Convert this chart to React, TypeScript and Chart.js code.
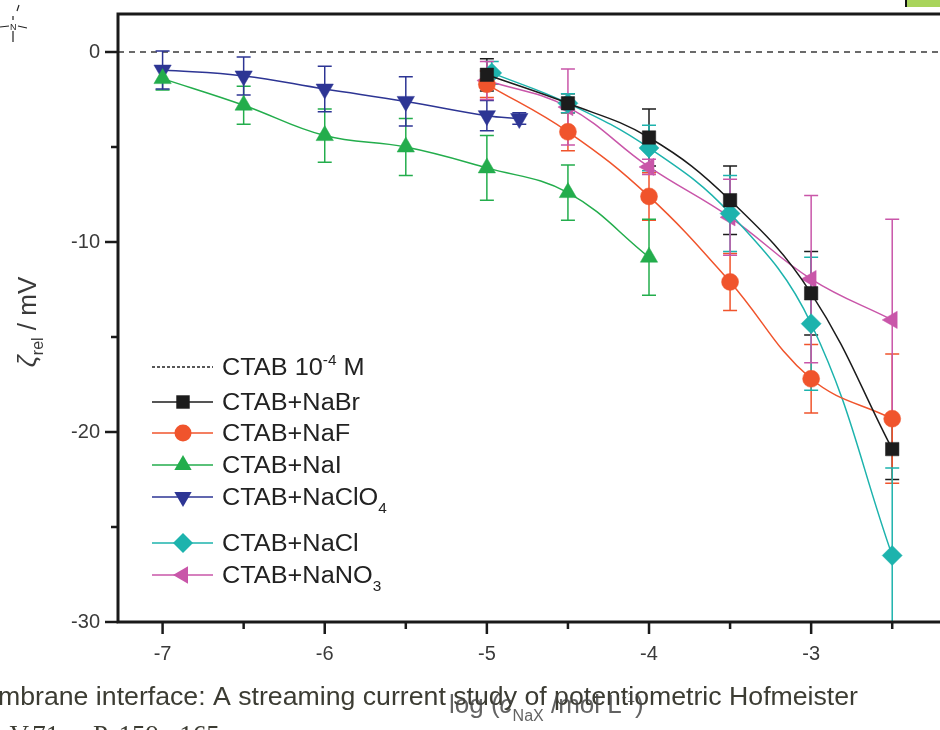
import React, { useEffect, useRef } from "react";
import Chart from "chart.js/auto";

// ---------- data ----------
const xTickValues = [-7, -6.5, -6, -5.5, -5, -4.5, -4, -3.5, -3, -2.5];
const yTickValues = [-30, -25, -20, -15, -10, -5, 0];
const xRange = [-7.275, -1.9];
const yRange = [-30, 2];
const referenceLevel = 0;

const xNaBr = [-5, -4.5, -4, -3.5, -3, -2.5];
const yNaBr = [-1.2, -2.7, -4.5, -7.8, -12.7, -20.9];
const eNaBr = [0.85, 0.5, 1.5, 1.8, 2.2, 1.6];

const xNaF = [-5, -4.5, -4, -3.5, -3, -2.5];
const yNaF = [-1.7, -4.2, -7.6, -12.1, -17.2, -19.3];
const eNaF = [0.7, 1.0, 1.25, 1.5, 1.8, 3.4];

const xNaI = [-7, -6.5, -6, -5.5, -5, -4.5, -4];
const yNaI = [-1.4, -2.8, -4.4, -5.0, -6.1, -7.4, -10.8];
const eNaI = [0.6, 1.0, 1.4, 1.5, 1.7, 1.45, 2.0];

const xNaClO4 = [-7, -6.5, -6, -5.5, -5, -4.8];
const yNaClO4 = [-0.95, -1.26, -1.95, -2.6, -3.35, -3.5];
const eNaClO4 = [1.0, 1.0, 1.2, 1.3, 0.8, 0.3];

const xNaCl = [-4.97, -4.5, -4, -3.5, -3, -2.5];
const yNaCl = [-1.1, -2.7, -5.05, -8.5, -14.3, -26.5];
const eNaCl = [0.6, 0.5, 1.2, 2.0, 3.5, 4.6];

const xNaNO3 = [-5, -4.5, -4, -3.5, -3, -2.5];
const yNaNO3 = [-1.5, -2.9, -6.05, -8.7, -11.95, -14.1];
const eNaNO3 = [1.0, 2.0, 0.4, 2.0, 4.4, 5.3];

const referenceLabel = ["CTAB 10", "-4", " M"];
const seriesLabels = ["CTAB+NaBr", "CTAB+NaF", "CTAB+NaI", "CTAB+NaClO", "CTAB+NaCl", "CTAB+NaNO"];
const seriesLabelSubs = ["", "", "", "4", "", "3"];

const pageLine1 = "mbrane interface: A streaming current study of potentiometric Hofmeister";
const pageLine2 = "\u2013V.71. \u2013 P. 159\u2013 165.";

// ---------- styling ----------
const FONT = '"Liberation Sans", Arial, sans-serif';
const series = [
  { label: seriesLabels[0], sub: seriesLabelSubs[0], x: xNaBr, y: yNaBr, err: eNaBr, color: "#1c1c1c", style: "rect", rot: 0, r: 9.5 },
  { label: seriesLabels[1], sub: seriesLabelSubs[1], x: xNaF, y: yNaF, err: eNaF, color: "#f0542c", style: "circle", rot: 0, r: 8.5 },
  { label: seriesLabels[2], sub: seriesLabelSubs[2], x: xNaI, y: yNaI, err: eNaI, color: "#23ad4c", style: "triangle", rot: 0, r: 10 },
  { label: seriesLabels[3], sub: seriesLabelSubs[3], x: xNaClO4, y: yNaClO4, err: eNaClO4, color: "#2d3594", style: "triangle", rot: 180, r: 10 },
  { label: seriesLabels[4], sub: seriesLabelSubs[4], x: xNaCl, y: yNaCl, err: eNaCl, color: "#1db3ad", style: "rectRot", rot: 0, r: 10 },
  { label: seriesLabels[5], sub: seriesLabelSubs[5], x: xNaNO3, y: yNaNO3, err: eNaNO3, color: "#c956a9", style: "triangle", rot: 270, r: 10 },
];

function drawMarker(ctx, style, rot, r, cx, cy, color) {
  ctx.save();
  ctx.fillStyle = color;
  ctx.beginPath();
  if (style === "rect") {
    const s = r * Math.SQRT1_2;
    ctx.rect(cx - s, cy - s, 2 * s, 2 * s);
  } else if (style === "circle") {
    ctx.arc(cx, cy, r, 0, Math.PI * 2);
  } else if (style === "rectRot") {
    ctx.moveTo(cx, cy - r);
    ctx.lineTo(cx + r, cy);
    ctx.lineTo(cx, cy + r);
    ctx.lineTo(cx - r, cy);
    ctx.closePath();
  } else {
    const rad = (rot * Math.PI) / 180;
    for (let k = 0; k < 3; k++) {
      const a = rad + (k * 2 * Math.PI) / 3;
      const px = cx + Math.sin(a) * r;
      const py = cy - Math.cos(a) * r;
      if (k === 0) ctx.moveTo(px, py);
      else ctx.lineTo(px, py);
    }
    ctx.closePath();
  }
  ctx.fill();
  ctx.restore();
}

// parts: {t, size, dy, italic}
function drawRich(ctx, parts, x, y, color, sx = 1) {
  ctx.save();
  ctx.fillStyle = color;
  ctx.textBaseline = "alphabetic";
  ctx.textAlign = "left";
  ctx.translate(x, y);
  ctx.scale(sx, 1);
  let cx = 0;
  for (const p of parts) {
    ctx.font = `${p.italic ? "italic " : ""}${p.size}px ${FONT}`;
    ctx.fillText(p.t, cx, p.dy || 0);
    cx += ctx.measureText(p.t).width;
  }
  ctx.restore();
}
function richWidth(ctx, parts) {
  let w = 0;
  ctx.save();
  for (const p of parts) {
    ctx.font = `${p.italic ? "italic " : ""}${p.size}px ${FONT}`;
    w += ctx.measureText(p.t).width;
  }
  ctx.restore();
  return w;
}

const decorPlugin = {
  id: "decor",
  beforeDatasetsDraw(chart) {
    const { ctx, chartArea: ca } = chart;
    const xs = chart.scales.x;
    const ys = chart.scales.y;
    ctx.save();
    const y0 = ys.getPixelForValue(referenceLevel);
    ctx.setLineDash([6, 5]);
    ctx.strokeStyle = "#3a3a3a";
    ctx.lineWidth = 1.5;
    ctx.beginPath();
    ctx.moveTo(ca.left, y0);
    ctx.lineTo(ca.right, y0);
    ctx.stroke();
    ctx.setLineDash([]);
    ctx.beginPath();
    ctx.rect(ca.left, ca.top, ca.right - ca.left, ca.bottom - ca.top);
    ctx.clip();
    for (const s of series) {
      ctx.strokeStyle = s.color;
      ctx.lineWidth = 1.5;
      s.x.forEach((xv, i) => {
        const px = xs.getPixelForValue(xv);
        const top = ys.getPixelForValue(s.y[i] + s.err[i]);
        const bot = ys.getPixelForValue(s.y[i] - s.err[i]);
        ctx.beginPath();
        ctx.moveTo(px, top);
        ctx.lineTo(px, bot);
        ctx.moveTo(px - 7, top);
        ctx.lineTo(px + 7, top);
        ctx.moveTo(px - 7, bot);
        ctx.lineTo(px + 7, bot);
        ctx.stroke();
      });
    }
    ctx.restore();
  },
  afterDraw(chart) {
    const { ctx, chartArea: ca } = chart;
    const xs = chart.scales.x;
    const ys = chart.scales.y;
    ctx.save();
    // frame
    ctx.strokeStyle = "#1a1a1a";
    ctx.lineWidth = 3;
    ctx.beginPath();
    ctx.moveTo(ca.right + 2, ca.top);
    ctx.lineTo(ca.left, ca.top);
    ctx.lineTo(ca.left, ca.bottom);
    ctx.lineTo(ca.right + 2, ca.bottom);
    ctx.stroke();
    // tick marks
    ctx.lineWidth = 2.5;
    for (const t of ys.ticks) {
      const py = ys.getPixelForValue(t.value);
      const len = t.value % 10 === 0 ? 13 : 7;
      ctx.beginPath();
      ctx.moveTo(ca.left - len, py);
      ctx.lineTo(ca.left, py);
      ctx.stroke();
    }
    for (const t of xs.ticks) {
      const px = xs.getPixelForValue(t.value);
      const len = Number.isInteger(t.value) ? 12 : 7;
      ctx.beginPath();
      ctx.moveTo(px, ca.bottom);
      ctx.lineTo(px, ca.bottom + len);
      ctx.stroke();
    }
    ctx.restore();

    // legend
    const rowBase = [375, 410, 441, 473, 505, 551, 583];
    const lx0 = 152, lx1 = 213, mx = 183, tx = 222;
    ctx.save();
    ctx.strokeStyle = "#222";
    ctx.lineWidth = 1.3;
    ctx.setLineDash([3, 2]);
    ctx.beginPath();
    ctx.moveTo(lx0, rowBase[0] - 8);
    ctx.lineTo(lx1, rowBase[0] - 8);
    ctx.stroke();
    ctx.setLineDash([]);
    ctx.restore();
    drawRich(ctx, [
      { t: referenceLabel[0], size: 23 },
      { t: referenceLabel[1], size: 14, dy: -10 },
      { t: referenceLabel[2], size: 23 },
    ], tx, rowBase[0], "#222", 1.1);
    series.forEach((s, i) => {
      const by = rowBase[i + 1];
      const cy = by - 8;
      ctx.save();
      ctx.strokeStyle = s.color;
      ctx.lineWidth = 1.5;
      ctx.beginPath();
      ctx.moveTo(lx0, cy);
      ctx.lineTo(lx1, cy);
      ctx.stroke();
      ctx.restore();
      drawMarker(ctx, s.style, s.rot, s.r, mx, cy, s.color);
      const parts = [{ t: s.label, size: 23 }];
      if (s.sub) parts.push({ t: s.sub, size: 14, dy: 8 });
      drawRich(ctx, parts, tx, by, "#222", 1.1);
    });

    // y title
    const yParts = [
      { t: "\u03b6", size: 26, italic: true },
      { t: "rel", size: 16, dy: 7 },
      { t: " / mV", size: 26 },
    ];
    const yw = richWidth(ctx, yParts);
    ctx.save();
    ctx.translate(36, 322);
    ctx.rotate(-Math.PI / 2);
    drawRich(ctx, yParts, -yw / 2, 0, "#3a3a3a");
    ctx.restore();

    // page text (background layer of the scanned page)
    ctx.save();
    ctx.font = `26px ${FONT}`;
    const w1 = ctx.measureText(pageLine1).width;
    ctx.translate(-2, 705);
    ctx.scale(860 / w1, 1);
    ctx.fillStyle = "#3c3c33";
    ctx.fillText(pageLine1, 0, 0);
    ctx.restore();
    ctx.save();
    ctx.font = `27px "Liberation Serif", "Times New Roman", serif`;
    ctx.fillStyle = "#3c3c33";
    ctx.fillText(pageLine2, -4, 744);
    ctx.restore();

    // x title
    const xParts = [
      { t: "log (", size: 26 },
      { t: "c", size: 26, italic: true },
      { t: "NaX", size: 16, dy: 8 },
      { t: " /mol L", size: 26 },
      { t: "-1", size: 15, dy: -11 },
      { t: ")", size: 26 },
    ];
    drawRich(ctx, xParts, 449, 713, "rgba(70,70,70,0.85)");

    // decorations: tiny structure mark top-left and green tab top-right
    ctx.save();
    ctx.strokeStyle = "#222";
    ctx.lineWidth = 1.2;
    ctx.beginPath();
    ctx.moveTo(0, 27); ctx.lineTo(9, 26);
    ctx.moveTo(18, 26); ctx.lineTo(27, 28);
    ctx.moveTo(13, 20); ctx.lineTo(13, 16);
    ctx.moveTo(13, 31); ctx.lineTo(13, 42);
    ctx.moveTo(17, 11); ctx.lineTo(19, 5);
    ctx.stroke();
    ctx.font = `9px ${FONT}`;
    ctx.fillStyle = "#222";
    ctx.fillText("N", 10, 30);
    ctx.fillStyle = "#a9d45c";
    ctx.fillRect(907, 0, 40, 7);
    ctx.fillStyle = "#111";
    ctx.fillRect(905, 0, 2, 7);
    ctx.restore();
  },
};

export default function App() {
  const ref = useRef(null);
  useEffect(() => {
    const canvas = ref.current;
    const datasets = series.map((s) => ({
      label: s.label + s.sub,
      data: s.x.map((xv, i) => ({ x: xv, y: s.y[i] })),
      borderColor: s.color,
      backgroundColor: s.color,
      pointBackgroundColor: s.color,
      pointBorderColor: s.color,
      pointBorderWidth: 0.5,
      pointStyle: s.style,
      rotation: s.rot,
      pointRadius: s.r,
      borderWidth: 1.5,
      tension: 0.4,
      fill: false,
    }));
    const chart = new Chart(canvas, {
      type: "line",
      data: { datasets },
      options: {
        animation: false,
        responsive: false,
        events: [],
        layout: { padding: { left: 0, top: 14, right: 0, bottom: 0 } },
        plugins: { legend: { display: false }, tooltip: { enabled: false } },
        scales: {
          x: {
            type: "linear",
            min: xRange[0],
            max: xRange[1],
            afterBuildTicks: (sc) => {
              sc.ticks = xTickValues.map((v) => ({ value: v }));
            },
            afterFit: (sc) => {
              sc.height = 108;
              sc.paddingLeft = 0;
              sc.paddingRight = 0;
            },
            grid: { display: false, drawTicks: false },
            border: { display: false },
            ticks: {
              autoSkip: false,
              maxRotation: 0,
              padding: 20,
              color: "#3a3a3a",
              font: { family: FONT, size: 20 },
              callback: (v) => (Number.isInteger(v) ? String(v) : ""),
            },
          },
          y: {
            min: yRange[0],
            max: yRange[1],
            afterBuildTicks: (sc) => {
              sc.ticks = yTickValues.map((v) => ({ value: v }));
            },
            afterFit: (sc) => {
              sc.width = 118;
              sc.paddingTop = 0;
              sc.paddingBottom = 0;
            },
            grid: { display: false, drawTicks: false },
            border: { display: false },
            ticks: {
              autoSkip: false,
              padding: 18,
              color: "#3a3a3a",
              font: { family: FONT, size: 20 },
              callback: (v) => (v % 10 === 0 ? String(v) : ""),
            },
          },
        },
      },
      plugins: [decorPlugin],
    });
    return () => chart.destroy();
  }, []);
  return (
    <div style={{ position: "fixed", left: 0, top: 0, width: 940, height: 730, overflow: "hidden", background: "#fff" }}>
      <canvas ref={ref} width={1000} height={730} style={{ display: "block" }} />
    </div>
  );
}
